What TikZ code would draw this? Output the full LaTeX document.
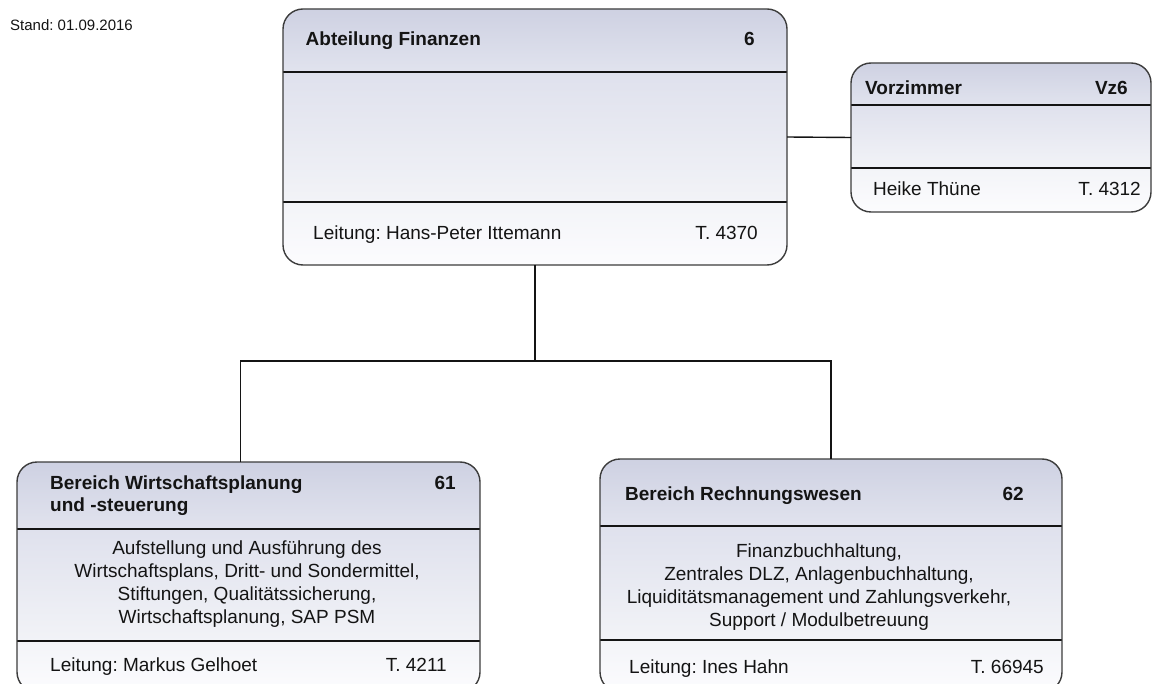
\documentclass[tikz,border=0pt]{standalone}
\usepackage{fontspec}
\setmainfont{Liberation Sans}
\usetikzlibrary{calc}
\definecolor{hdtop}{RGB}{206,209,226}
\definecolor{hdbot}{RGB}{225,227,238}
\definecolor{bdtop}{RGB}{223,225,237}
\definecolor{bdbot}{RGB}{242,243,247}
\definecolor{fttop}{RGB}{243,244,248}
\definecolor{ftbot}{RGB}{252,252,254}
\definecolor{edge}{RGB}{60,60,60}
\definecolor{ink}{RGB}{20,20,20}
\tikzset{
  frame/.style={draw=edge, line width=1.4pt, rounded corners=20pt, inner sep=0pt, outer sep=0pt, rectangle},
  divider/.style={draw=ink, line width=1.4pt},
  link/.style={draw=ink, line width=1.4pt},
  title/.style={font=\frenchspacing\bfseries\fontsize{19}{22}\selectfont, text=ink, inner sep=0pt},
  plain/.style={font=\frenchspacing\fontsize{19}{23}\selectfont, text=ink, inner sep=0pt},
  body/.style={font=\frenchspacing\fontsize{19}{23}\selectfont, text=ink, inner sep=0pt, align=center},
  small/.style={font=\frenchspacing\fontsize{15}{18}\selectfont, text=ink, inner sep=0pt},
}
\newcommand\orgbox[7]{%
  \begin{scope}
    \clip[rounded corners=20pt] (#2,-#3) rectangle (#4,-#5);
    \shade[top color=hdtop,bottom color=hdbot] (#2,-#3) rectangle (#4,-#6);
    \shade[top color=bdtop,bottom color=bdbot] (#2,-#6) rectangle (#4,-#7);
    \shade[top color=fttop,bottom color=ftbot] (#2,-#7) rectangle (#4,-#5);
  \end{scope}
  \draw[divider] (#2,-#6) -- (#4,-#6);
  \draw[divider] (#2,-#7) -- (#4,-#7);
  \node[frame, minimum width={(#4-#2)*1pt}, minimum height={(#5-#3)*1pt}] (#1) at ({(#2+#4)/2},{-(#3+#5)/2}) {};
}
\begin{document}
\frenchspacing
\begin{tikzpicture}[x=1pt,y=1pt]
\useasboundingbox (0,0) rectangle (1153,-684);
\clip (0,0) rectangle (1153,-684);
\fill[white] (0,0) rectangle (1153,-684);

\node[small, anchor=base west] (stand) at (10,-31) {Stand: 01.09.2016};

\orgbox{top}{283}{9}{787}{265}{72}{202}
\orgbox{vz}{851}{63}{1151}{212}{105}{168}
\orgbox{wp}{17}{462}{480}{692}{529}{641}
\orgbox{rw}{600}{459}{1062}{692}{526}{640}

% Abteilung Finanzen
\node[title, anchor=base west] (topT) at (305.5,-46) {Abteilung Finanzen};
\node[title, anchor=base east] (topN) at (755,-46) {6};
\node[plain, anchor=base west] (topL) at (313,-240) {Leitung: Hans-Peter Ittemann};
\node[plain, anchor=base east] (topP) at (758,-240) {T. 4370};

% Vorzimmer
\node[title, anchor=base west] (vzT) at (865,-95) {Vorzimmer};
\node[title, anchor=base east] (vzN) at (1128,-95) {Vz6};
\node[plain, anchor=base west] (vzL) at (873,-196) {Heike Thüne};
\node[plain, anchor=base east] (vzP) at (1141,-196) {T. 4312};

% Bereich Wirtschaftsplanung
\node[title, anchor=base west] (wpT1) at (50,-489) {Bereich Wirtschaftsplanung};
\node[title, anchor=base west] (wpT2) at (50,-511) {und -steuerung};
\node[title, anchor=base east] (wpN) at (456,-489) {61};
\node[body] (wpB) at (247,-584.5) {Aufstellung und Ausführung des\\Wirtschaftsplans, Dritt- und Sondermittel,\\Stiftungen, Qualitätssicherung,\\Wirtschaftsplanung, SAP PSM};
\node[plain, anchor=base west] (wpL) at (50,-671) {Leitung: Markus Gelhoet};
\node[plain, anchor=base east] (wpP) at (447,-671) {T. 4211};

% Bereich Rechnungswesen
\node[title, anchor=base west] (rwT) at (625,-500) {Bereich Rechnungswesen};
\node[title, anchor=base east] (rwN) at (1024,-500) {62};
\node[body] (rwB) at (819,-587.5) {Finanzbuchhaltung,\\Zentrales DLZ, Anlagenbuchhaltung,\\Liquiditätsmanagement und Zahlungsverkehr,\\Support / Modulbetreuung};
\node[plain, anchor=base west] (rwL) at (629,-673) {Leitung: Ines Hahn};
\node[plain, anchor=base east] (rwP) at (1044,-673) {T. 66945};

% connectors
\coordinate (jL) at (240.6,-361);
\coordinate (jR) at (831,-361);
\draw[link] (top.east) -- (vz.west);
\draw[link] (top.south) -- (top.south |- jL);
\draw[link] (jL |- wp.north) -- (jL) -- (jR) -- (jR |- rw.north);
\end{tikzpicture}
\end{document}
